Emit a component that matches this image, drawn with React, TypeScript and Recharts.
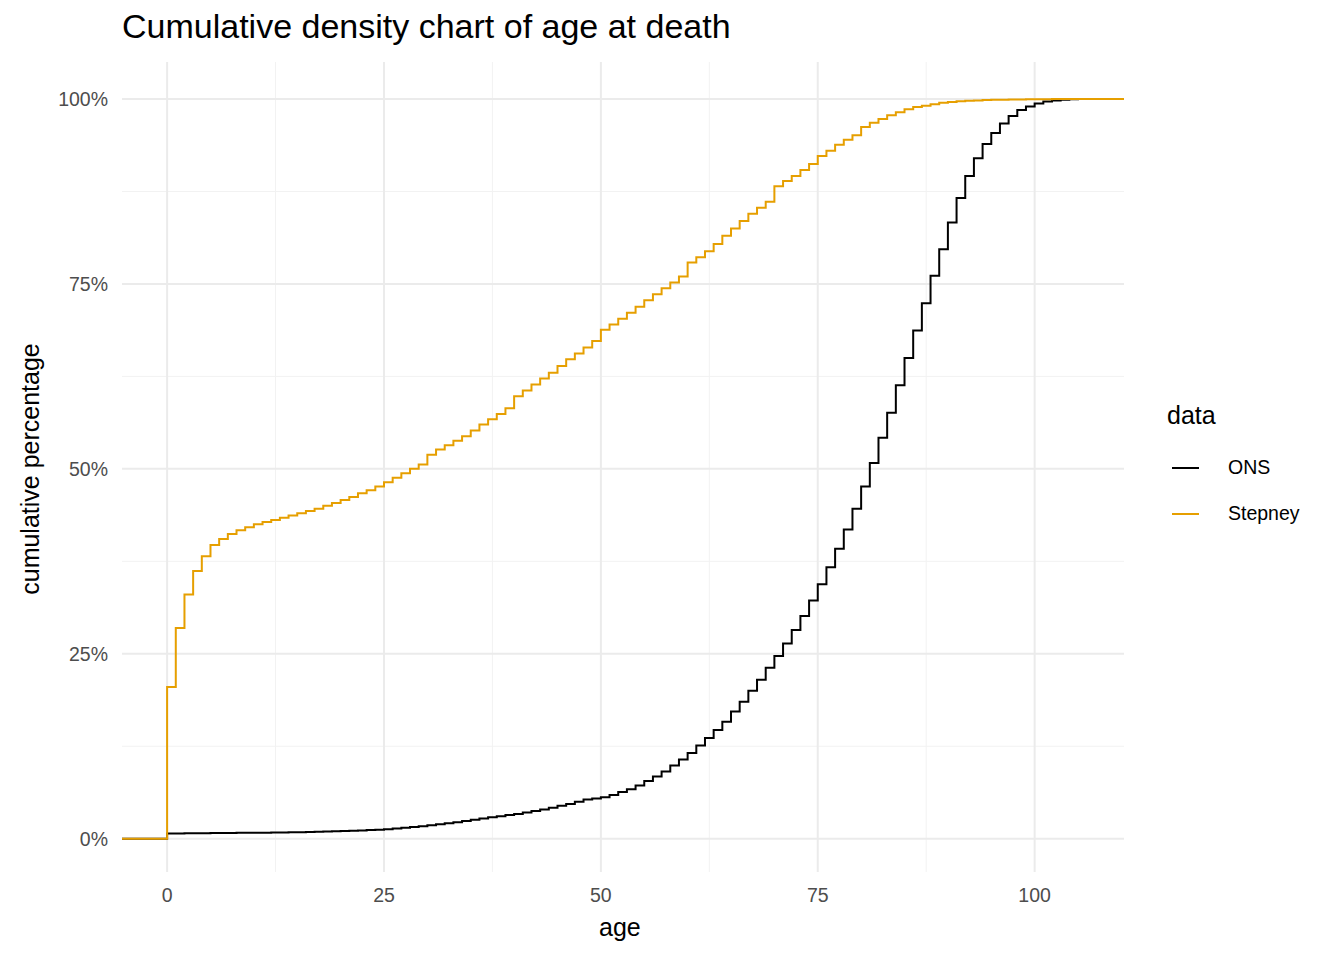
import React from "react";
import { LineChart, Line, XAxis, YAxis, ReferenceLine } from "recharts";

// cumulative % at each whole age 0..105
const ages = Array.from({ length: 106 }, (_, i) => i);

const onsValues = [
  0.7, 0.72, 0.73, 0.74, 0.75, 0.76, 0.77, 0.78, 0.79, 0.8,
  0.81, 0.82, 0.83, 0.84, 0.86, 0.88, 0.9, 0.93, 0.96, 1.0,
  1.04, 1.08, 1.12, 1.17, 1.22, 1.28, 1.38, 1.48, 1.58, 1.7,
  1.82, 1.95, 2.08, 2.22, 2.38, 2.55, 2.72, 2.9, 3.05, 3.2,
  3.35, 3.55, 3.75, 3.95, 4.2, 4.45, 4.7, 5.0, 5.3, 5.45,
  5.6, 5.9, 6.3, 6.7, 7.2, 7.8, 8.4, 9.1, 9.9, 10.7,
  11.6, 12.6, 13.6, 14.7, 15.8, 17.2, 18.5, 20.0, 21.5, 23.1,
  24.7, 26.4, 28.2, 30.1, 32.2, 34.4, 36.7, 39.2, 41.8, 44.6,
  47.6, 50.8, 54.2, 57.6, 61.3, 65.0, 68.7, 72.4, 76.1, 79.7,
  83.3, 86.6, 89.6, 92.0, 93.9, 95.4, 96.7, 97.7, 98.5, 99.0,
  99.4, 99.65, 99.8, 99.9, 99.95, 100,
];

const stepneyValues = [
  20.5, 28.5, 33.0, 36.2, 38.2, 39.7, 40.5, 41.2, 41.7, 42.1,
  42.5, 42.8, 43.1, 43.4, 43.7, 44.0, 44.3, 44.6, 45.0, 45.4,
  45.8, 46.2, 46.7, 47.1, 47.6, 48.2, 48.8, 49.4, 50.0, 50.6,
  51.9, 52.6, 53.2, 53.8, 54.4, 55.2, 56.0, 56.7, 57.4, 58.2,
  59.8, 60.6, 61.4, 62.2, 63.0, 63.9, 64.8, 65.6, 66.4, 67.3,
  68.8, 69.5, 70.3, 71.1, 71.9, 72.8, 73.6, 74.4, 75.2, 76.0,
  77.9, 78.6, 79.4, 80.4, 81.5, 82.5, 83.5, 84.5, 85.3, 86.1,
  88.2, 88.9, 89.6, 90.4, 91.2, 92.3, 93.0, 93.8, 94.5, 95.1,
  96.2, 96.8, 97.3, 97.8, 98.2, 98.6, 98.9, 99.1, 99.3, 99.5,
  99.6, 99.7, 99.75, 99.8, 99.85, 99.88, 99.9, 99.92, 99.94, 99.96,
  99.97, 99.98, 99.99, 100, 100, 100,
];

const xTicks = [0, 25, 50, 75, 100];
const xMinor = [12.5, 37.5, 62.5, 87.5];
const yTicks = [0, 25, 50, 75, 100];
const yMinor = [12.5, 37.5, 62.5, 87.5];
const xDomain = [-5.2, 110.3];

const data = [
  { age: xDomain[0], ons: 0, stepney: 0 },
  ...ages.map((a, i) => ({ age: a, ons: onsValues[i], stepney: stepneyValues[i] })),
  { age: xDomain[1], ons: 100, stepney: 100 },
];

const font = "Helvetica, Arial, 'Liberation Sans', sans-serif";
const tickStyle = { fontSize: 19.5, fill: "#4d4d4d", fontFamily: font };

export default function App() {
  return (
    <div style={{ position: "relative", width: 1344, height: 960, margin: -8, background: "white", fontFamily: font }}>
      <div style={{ position: "absolute", left: 122, top: 7, fontSize: 34, color: "#000" }}>
        Cumulative density chart of age at death
      </div>
      <LineChart width={1344} height={960} data={data} margin={{ top: 62, right: 220, bottom: 0, left: 0 }}>
        {xMinor.map((v) => (
          <ReferenceLine key={"xm" + v} x={v} stroke="#f2f2f2" strokeWidth={1} />
        ))}
        {yMinor.map((v) => (
          <ReferenceLine key={"ym" + v} y={v} stroke="#f2f2f2" strokeWidth={1} />
        ))}
        {xTicks.map((v) => (
          <ReferenceLine key={"x" + v} x={v} stroke="#ebebeb" strokeWidth={2} />
        ))}
        {yTicks.map((v) => (
          <ReferenceLine key={"y" + v} y={v} stroke="#ebebeb" strokeWidth={2} />
        ))}
        <XAxis
          dataKey="age"
          type="number"
          domain={xDomain}
          ticks={xTicks}
          allowDataOverflow
          axisLine={false}
          tickLine={false}
          tickSize={0}
          tickMargin={16}
          height={88}
          tick={tickStyle}
        />
        <YAxis
          type="number"
          domain={[-4.5, 105]}
          ticks={yTicks}
          allowDataOverflow
          axisLine={false}
          tickLine={false}
          tickSize={0}
          tickMargin={14}
          width={122}
          tick={tickStyle}
          tickFormatter={(v) => `${v}%`}
        />
        <Line type="stepAfter" dataKey="ons" stroke="#000000" strokeWidth={2} dot={false} isAnimationActive={false} />
        <Line type="stepAfter" dataKey="stepney" stroke="#E69F00" strokeWidth={2} dot={false} isAnimationActive={false} />
      </LineChart>
      <div style={{ position: "absolute", left: 599, top: 913, fontSize: 25 }}>age</div>
      <div
        style={{
          position: "absolute",
          left: 30,
          top: 469,
          fontSize: 25,
          transform: "translate(-50%, -50%) rotate(-90deg)",
          whiteSpace: "nowrap",
        }}
      >
        cumulative percentage
      </div>
      <div style={{ position: "absolute", left: 1167, top: 401, fontSize: 25 }}>data</div>
      {[
        { name: "ONS", color: "#000000", y: 468 },
        { name: "Stepney", color: "#E69F00", y: 514 },
      ].map((s) => (
        <React.Fragment key={s.name}>
          <div style={{ position: "absolute", left: 1172, top: s.y - 1, width: 27, height: 2, background: s.color }} />
          <div style={{ position: "absolute", left: 1228, top: s.y - 12, fontSize: 19.5 }}>{s.name}</div>
        </React.Fragment>
      ))}
    </div>
  );
}
